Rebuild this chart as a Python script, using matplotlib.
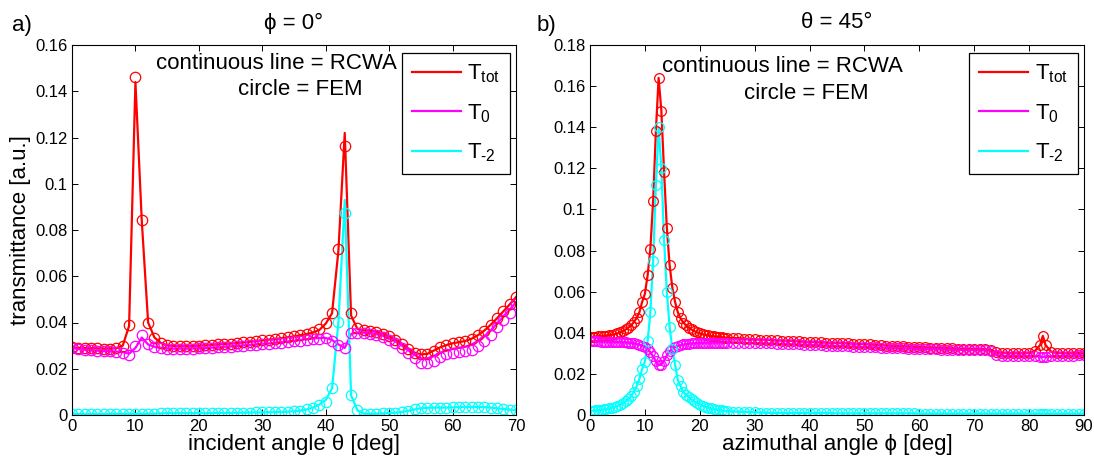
import matplotlib
matplotlib.use('Agg')
import matplotlib.pyplot as plt
import numpy as np

plt.rcParams['font.family'] = ['Liberation Sans', 'DejaVu Sans']
plt.rcParams['mathtext.fontset'] = 'custom'
plt.rcParams['mathtext.rm'] = 'Liberation Sans'
plt.rcParams['mathtext.it'] = 'Liberation Sans'

# ---- panel a): phi = 0, vs incident angle theta ----
theta = list(range(71))

a_tot = [0.0292, 0.0291, 0.0290, 0.0289, 0.0288, 0.0287, 0.0287, 0.0289, 0.0300, 0.0385,
         0.1440, 0.0840, 0.0400, 0.0335, 0.0312, 0.0302, 0.0298, 0.0297, 0.0297, 0.0298,
         0.0300, 0.0301, 0.0303, 0.0305, 0.0307, 0.0309, 0.0311, 0.0314, 0.0317, 0.0320,
         0.0323, 0.0326, 0.0329, 0.0332, 0.0336, 0.0340, 0.0345, 0.0350, 0.0357, 0.0368,
         0.0395, 0.0440, 0.0710, 0.1220, 0.0430, 0.0372, 0.0366, 0.0364, 0.0360, 0.0352,
         0.0340, 0.0326, 0.0308, 0.0288, 0.0270, 0.0262, 0.0264, 0.0278, 0.0292, 0.0302,
         0.0310, 0.0315, 0.0320, 0.0330, 0.0345, 0.0365, 0.0390, 0.0418, 0.0448, 0.0478,
         0.0510]
a_0 = [0.0290, 0.0285, 0.0282, 0.0280, 0.0278, 0.0277, 0.0276, 0.0274, 0.0272, 0.0265,
       0.0290, 0.0335, 0.0305, 0.0295, 0.0290, 0.0288, 0.0287, 0.0287, 0.0287, 0.0288,
       0.0289, 0.0290, 0.0291, 0.0293, 0.0295, 0.0297, 0.0299, 0.0301, 0.0303, 0.0305,
       0.0308, 0.0310, 0.0312, 0.0315, 0.0318, 0.0321, 0.0325, 0.0328, 0.0331, 0.0333,
       0.0333, 0.0325, 0.0305, 0.0290, 0.0350, 0.0357, 0.0356, 0.0354, 0.0350, 0.0343,
       0.0332, 0.0318, 0.0300, 0.0280, 0.0260, 0.0245, 0.0245, 0.0255, 0.0268, 0.0278,
       0.0285, 0.0290, 0.0295, 0.0305, 0.0320, 0.0340, 0.0365, 0.0395, 0.0425, 0.0455,
       0.0488]
a_m2 = [0.0004, 0.0004, 0.0004, 0.0004, 0.0004, 0.0004, 0.0005, 0.0005, 0.0005, 0.0005,
        0.0005, 0.0005, 0.0005, 0.0006, 0.0007, 0.0008, 0.0008, 0.0008, 0.0008, 0.0008,
        0.0008, 0.0008, 0.0008, 0.0009, 0.0009, 0.0009, 0.0010, 0.0010, 0.0010, 0.0011,
        0.0011, 0.0012, 0.0012, 0.0013, 0.0014, 0.0016, 0.0019, 0.0024, 0.0032, 0.0045,
        0.0065, 0.0115, 0.0400, 0.0930, 0.0085, 0.0020, 0.0006, 0.0005, 0.0006, 0.0007,
        0.0008, 0.0010, 0.0013, 0.0018, 0.0024, 0.0029, 0.0031, 0.0032, 0.0032, 0.0032,
        0.0033, 0.0034, 0.0035, 0.0035, 0.0035, 0.0034, 0.0032, 0.0029, 0.0026, 0.0023,
        0.0021]

# FEM points (circles)
a_tot_fem = [0.0292, 0.0291, 0.0290, 0.0289, 0.0288, 0.0287, 0.0287, 0.0289, 0.0300, 0.0389,
             0.1463, 0.0843, 0.0399, 0.0333, 0.0312, 0.0302, 0.0298, 0.0297, 0.0297, 0.0298,
             0.0300, 0.0301, 0.0303, 0.0305, 0.0307, 0.0309, 0.0311, 0.0314, 0.0317, 0.0320,
             0.0323, 0.0326, 0.0329, 0.0332, 0.0336, 0.0340, 0.0345, 0.0350, 0.0357, 0.0370,
             0.0397, 0.0442, 0.0716, 0.1165, 0.0440, 0.0376, 0.0366, 0.0364, 0.0360, 0.0352,
             0.0340, 0.0326, 0.0306, 0.0286, 0.0268, 0.0262, 0.0264, 0.0278, 0.0292, 0.0302,
             0.0310, 0.0315, 0.0320, 0.0330, 0.0345, 0.0365, 0.0390, 0.0418, 0.0448, 0.0478,
             0.0512]
a_0_fem = [0.0290, 0.0284, 0.0281, 0.0279, 0.0277, 0.0276, 0.0275, 0.0272, 0.0270, 0.0260,
           0.0298, 0.0346, 0.0305, 0.0293, 0.0288, 0.0286, 0.0285, 0.0285, 0.0286, 0.0287,
           0.0288, 0.0289, 0.0290, 0.0292, 0.0294, 0.0296, 0.0298, 0.0300, 0.0302, 0.0304,
           0.0306, 0.0308, 0.0310, 0.0313, 0.0316, 0.0319, 0.0322, 0.0325, 0.0328, 0.0330,
           0.0331, 0.0322, 0.0303, 0.0291, 0.0353, 0.0355, 0.0353, 0.0350, 0.0346, 0.0338,
           0.0325, 0.0310, 0.0290, 0.0268, 0.0245, 0.0225, 0.0223, 0.0235, 0.0250, 0.0262,
           0.0268, 0.0272, 0.0275, 0.0282, 0.0298, 0.0320, 0.0348, 0.0380, 0.0410, 0.0440,
           0.0480]
a_m2_fem = [0.0004, 0.0004, 0.0004, 0.0004, 0.0004, 0.0004, 0.0005, 0.0005, 0.0005, 0.0005,
            0.0005, 0.0005, 0.0005, 0.0006, 0.0007, 0.0008, 0.0008, 0.0008, 0.0008, 0.0008,
            0.0008, 0.0008, 0.0008, 0.0009, 0.0009, 0.0009, 0.0010, 0.0010, 0.0010, 0.0011,
            0.0011, 0.0012, 0.0012, 0.0013, 0.0014, 0.0016, 0.0019, 0.0024, 0.0032, 0.0045,
            0.0058, 0.0115, 0.0403, 0.0872, 0.0086, 0.0020, 0.0006, 0.0005, 0.0006, 0.0007,
            0.0008, 0.0010, 0.0013, 0.0018, 0.0024, 0.0029, 0.0031, 0.0032, 0.0032, 0.0032,
            0.0033, 0.0034, 0.0035, 0.0035, 0.0035, 0.0034, 0.0032, 0.0029, 0.0026, 0.0023,
            0.0021]

# ---- panel b): theta = 45, vs azimuthal angle phi ----
phi = list(np.arange(0, 25, 0.5)) + list(range(25, 82)) + [82, 82.5, 83] + list(range(84, 91))

b_tot = [0.0380, 0.0380, 0.0381, 0.0382, 0.0383, 0.0384, 0.0386, 0.0388, 0.0390, 0.0393,
         0.0397, 0.0402, 0.0408, 0.0416, 0.0425, 0.0437, 0.0452, 0.0472, 0.0500, 0.0550,
         0.0590, 0.0680, 0.0810, 0.1040, 0.1380, 0.1640, 0.1480, 0.1180, 0.0910, 0.0730,
         0.0620, 0.0550, 0.0500, 0.0470, 0.0450, 0.0436, 0.0425, 0.0416, 0.0408, 0.0402,
         0.0397, 0.0393, 0.0390, 0.0387, 0.0385, 0.0383, 0.0381, 0.0380, 0.0378, 0.0377,
         # 25 .. 81
         0.0376, 0.0375, 0.0374, 0.0372, 0.0370, 0.0368, 0.0367, 0.0366, 0.0365, 0.0364,
         0.0362, 0.0361, 0.0360, 0.0358, 0.0356, 0.0355, 0.0354, 0.0353, 0.0352, 0.0351,
         0.0350, 0.0349, 0.0348, 0.0347, 0.0346, 0.0345, 0.0343, 0.0341, 0.0340, 0.0338,
         0.0336, 0.0335, 0.0334, 0.0333, 0.0332, 0.0330, 0.0329, 0.0328, 0.0327, 0.0326,
         0.0325, 0.0324, 0.0323, 0.0322, 0.0322, 0.0321, 0.0320, 0.0320, 0.0318, 0.0305,
         0.0302, 0.0301, 0.0300, 0.0300, 0.0300, 0.0302, 0.0310,
         # 82, 82.5, 83
         0.0340, 0.0385, 0.0340,
         # 84 .. 90
         0.0308, 0.0303, 0.0301, 0.0300, 0.0300, 0.0300, 0.0300]
b_0 = [0.0358, 0.0358, 0.0358, 0.0358, 0.0357, 0.0357, 0.0357, 0.0356, 0.0356, 0.0356,
       0.0355, 0.0355, 0.0354, 0.0353, 0.0352, 0.0351, 0.0349, 0.0346, 0.0342, 0.0337,
       0.0330, 0.0320, 0.0305, 0.0285, 0.0262, 0.0243, 0.0245, 0.0265, 0.0290, 0.0310,
       0.0322, 0.0330, 0.0336, 0.0340, 0.0343, 0.0345, 0.0347, 0.0348, 0.0349, 0.0350,
       0.0351, 0.0351, 0.0352, 0.0352, 0.0352, 0.0352, 0.0352, 0.0352, 0.0352, 0.0352,
       0.0352, 0.0352, 0.0351, 0.0351, 0.0350, 0.0350, 0.0349, 0.0349, 0.0348, 0.0347,
       0.0346, 0.0345, 0.0344, 0.0343, 0.0342, 0.0341, 0.0340, 0.0339, 0.0338, 0.0337,
       0.0336, 0.0335, 0.0334, 0.0333, 0.0332, 0.0331, 0.0330, 0.0329, 0.0328, 0.0327,
       0.0326, 0.0325, 0.0324, 0.0323, 0.0322, 0.0321, 0.0320, 0.0320, 0.0319, 0.0318,
       0.0318, 0.0317, 0.0316, 0.0316, 0.0315, 0.0315, 0.0314, 0.0314, 0.0312, 0.0292,
       0.0288, 0.0287, 0.0287, 0.0287, 0.0287, 0.0287, 0.0286,
       0.0284, 0.0282, 0.0284,
       0.0286, 0.0287, 0.0287, 0.0288, 0.0289, 0.0290, 0.0290]
b_m2 = [0.0020, 0.0021, 0.0022, 0.0023, 0.0025, 0.0027, 0.0029, 0.0032, 0.0035, 0.0039,
        0.0044, 0.0050, 0.0057, 0.0066, 0.0077, 0.0092, 0.0112, 0.0140, 0.0175, 0.0225,
        0.0260, 0.0360, 0.0500, 0.0750, 0.1120, 0.1400, 0.1200, 0.0850, 0.0600, 0.0430,
        0.0320, 0.0245, 0.0170, 0.0140, 0.0110, 0.0098, 0.0088, 0.0076, 0.0066, 0.0058,
        0.0051, 0.0045, 0.0040, 0.0036, 0.0032, 0.0029, 0.0026, 0.0024, 0.0022, 0.0020,
        0.0018, 0.0017, 0.0016, 0.0015, 0.0014, 0.0013, 0.0012, 0.0011, 0.0010, 0.0010,
        0.0009, 0.0009, 0.0009, 0.0009, 0.0009, 0.0009, 0.0009, 0.0009, 0.0009, 0.0009,
        0.0008, 0.0008, 0.0008, 0.0008, 0.0008, 0.0008, 0.0008, 0.0008, 0.0008, 0.0008,
        0.0008, 0.0008, 0.0008, 0.0008, 0.0008, 0.0006, 0.0006, 0.0006, 0.0006, 0.0006,
        0.0006, 0.0006, 0.0006, 0.0006, 0.0006, 0.0006, 0.0006, 0.0006, 0.0006, 0.0006,
        0.0006, 0.0006, 0.0006, 0.0006, 0.0006, 0.0006, 0.0006,
        0.0006, 0.0006, 0.0006,
        0.0006, 0.0006, 0.0006, 0.0006, 0.0006, 0.0006, 0.0006]

colors = ['#ff0000', '#ff00ff', '#00ffff']
labels = [r'$\mathregular{T_{tot}}$', r'$\mathregular{T_{0}}$', '$\\mathregular{T_{\u20102}}$']

fig = plt.figure(figsize=(10.94, 4.66), dpi=100)
axa = fig.add_axes([72 / 1094, 51 / 466, 444 / 1094, 370 / 466])
axb = fig.add_axes([590 / 1094, 51 / 466, 494 / 1094, 370 / 466])


def draw(ax, x, lines, circles, ms):
    for y, c, lab in zip(lines, colors, labels):
        ax.plot(x, y, '-', color=c, lw=1.6, label=lab)
    for y, c in zip(circles, colors):
        ax.plot(x, y, 'o', color=c, mfc='none', ms=ms, mew=0.9)
    ax.tick_params(direction='in', top=True, right=True, length=4, width=0.7,
                   labelsize=12, pad=3)
    for s in ax.spines.values():
        s.set_linewidth(0.8)
    leg = ax.legend(loc='upper right', bbox_to_anchor=(0.987, 0.979), borderaxespad=0,
                    fontsize=16, handlelength=2.2, handletextpad=0.3, labelspacing=0.75,
                    borderpad=0.45, fancybox=False, framealpha=1, edgecolor='black')
    leg.get_frame().set_linewidth(0.9)


draw(axa, theta, [a_tot, a_0, a_m2], [a_tot_fem, a_0_fem, a_m2_fem], 7.5)
axa.set_xlim(0, 70)
axa.set_ylim(0, 0.16)
axa.set_xticks(range(0, 71, 10))
axa.set_yticks([0, 0.02, 0.04, 0.06, 0.08, 0.1, 0.12, 0.14, 0.16])
axa.set_yticklabels(['0', '0.02', '0.04', '0.06', '0.08', '0.1', '0.12', '0.14', '0.16'])
axa.set_xlabel('incident angle θ [deg]', fontsize=16, labelpad=0)
axa.set_ylabel('transmittance [a.u.]', fontsize=16, labelpad=3)
axa.text(32.3, 0.1521, 'continuous line = RCWA', fontsize=16, ha='center', va='center')
axa.text(36.0, 0.1408, 'circle = FEM', fontsize=16, ha='center', va='center')

draw(axb, phi, [b_tot, b_0, b_m2], [b_tot, b_0, b_m2], 7)
axb.set_xlim(0, 90)
axb.set_ylim(0, 0.18)
axb.set_xticks(range(0, 91, 10))
axb.set_yticks([0, 0.02, 0.04, 0.06, 0.08, 0.1, 0.12, 0.14, 0.16, 0.18])
axb.set_yticklabels(['0', '0.02', '0.04', '0.06', '0.08', '0.1', '0.12', '0.14', '0.16', '0.18'])
axb.set_xlabel('azimuthal angle ϕ [deg]', fontsize=16, labelpad=0)
axb.text(35.1, 0.1694, 'continuous line = RCWA', fontsize=16, ha='center', va='center')
axb.text(39.5, 0.1565, 'circle = FEM', fontsize=16, ha='center', va='center')

fig.text(294 / 1094, 1 - 23 / 466, 'ϕ = 0°', fontsize=16, ha='center', va='center')
fig.text(837 / 1094, 1 - 23 / 466, 'θ = 45°', fontsize=16, ha='center', va='center')
fig.text(22 / 1094, 1 - 26 / 466, 'a)', fontsize=16, ha='center', va='center')
fig.text(546 / 1094, 1 - 26 / 466, 'b)', fontsize=16, ha='center', va='center')

fig.savefig('out.png', dpi=100)
